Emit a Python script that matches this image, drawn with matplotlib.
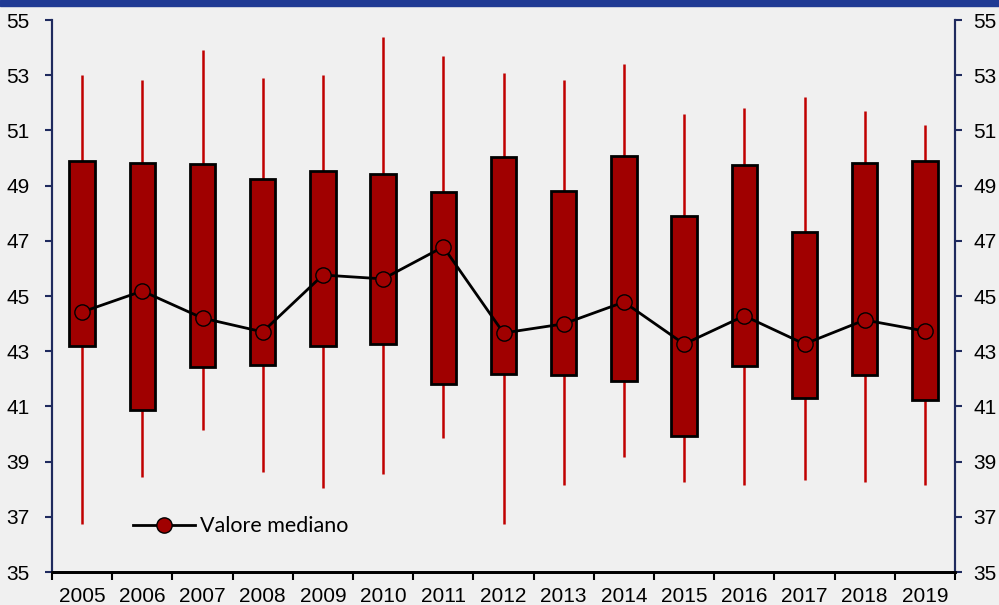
import matplotlib.pyplot as plt
import numpy as np

# Annual distribution: whiskers (min/max), box (q1/q3) and median
years = ["2005", "2006", "2007", "2008", "2009", "2010", "2011", "2012",
         "2013", "2014", "2015", "2016", "2017", "2018", "2019"]
w_high = [53.0, 52.83, 53.9, 52.9, 53.0, 54.4, 53.7, 53.08, 52.83, 53.41, 51.6, 51.8, 52.2, 51.7, 51.2]
q3 = [49.88, 49.82, 49.78, 49.24, 49.53, 49.42, 48.77, 50.04, 48.8, 50.07, 47.9, 49.75, 47.32, 49.82, 49.89]
q1 = [43.19, 40.87, 42.43, 42.5, 43.19, 43.26, 41.81, 42.17, 42.14, 41.92, 39.93, 42.46, 41.3, 42.14, 41.23]
w_low = [36.75, 38.44, 40.14, 38.62, 38.04, 38.55, 39.86, 36.75, 38.15, 39.17, 38.26, 38.15, 38.33, 38.26, 38.15]
median = [44.42, 45.18, 44.2, 43.7, 45.76, 45.62, 46.78, 43.66, 43.99, 44.78, 43.26, 44.28, 43.26, 44.13, 43.73]

bg = "#F0F0F0"
navy = "#1F2A5E"
plt.rcParams['font.family'] = ['Liberation Sans', 'DejaVu Sans']

fig = plt.figure(figsize=(9.99, 6.05), dpi=100, facecolor=bg)
ax = fig.add_axes([52 / 999, 1 - 572 / 605, (955 - 52) / 999, (572 - 20) / 605])
ax.set_facecolor(bg)

x = np.arange(len(years))
ax.vlines(x, w_low, w_high, color="#C00000", lw=1.8, zorder=1)
ax.bar(x, np.array(q3) - np.array(q1), bottom=q1, width=0.42,
       color="#A00000", edgecolor="black", linewidth=2.0, zorder=2)
ax.plot(x, median, color="black", lw=2.0, marker="o", markersize=11,
        markerfacecolor="#A00000", markeredgecolor="black", markeredgewidth=1.0,
        zorder=3, label="Valore mediano")

ax.set_xlim(-0.5, len(years) - 0.5)
ax.set_ylim(35, 55)
ax.set_yticks(np.arange(35, 56, 2))
ax.set_xticks(x)
ax.set_xticklabels(years)
ax.set_xticks(np.arange(-0.5, len(years), 1), minor=True)
ax.tick_params(axis="x", which="major", length=0, labelsize=15, pad=11)
ax.tick_params(axis="x", which="minor", length=6, width=1.5, color="black")
ax.tick_params(axis="y", length=5, width=1.5, color=navy, labelsize=15, pad=11)

ax2 = ax.twinx()
ax2.set_ylim(35, 55)
ax2.set_yticks(np.arange(35, 56, 2))
ax2.tick_params(axis="y", length=5, width=1.5, color=navy, labelsize=15, pad=8)

for a in (ax, ax2):
    a.spines["top"].set_visible(False)
    a.spines["left"].set_color(navy)
    a.spines["right"].set_color(navy)
    a.spines["left"].set_linewidth(1.5)
    a.spines["right"].set_linewidth(1.5)
    a.spines["bottom"].set_color("black")
    a.spines["bottom"].set_linewidth(2)

leg = ax.legend(loc="lower left", bbox_to_anchor=(0.068, 0.03), frameon=False,
                handlelength=2.9, handletextpad=0.2,
                prop={"family": ["Lato", "DejaVu Sans"], "size": 15.5})

# blue band along the top edge
fig.patches.append(plt.Rectangle((0, 1 - 6 / 605), 1, 6 / 605, transform=fig.transFigure,
                                 color="#203A94", zorder=10))

fig.savefig("out.png", dpi=100, facecolor=bg)
